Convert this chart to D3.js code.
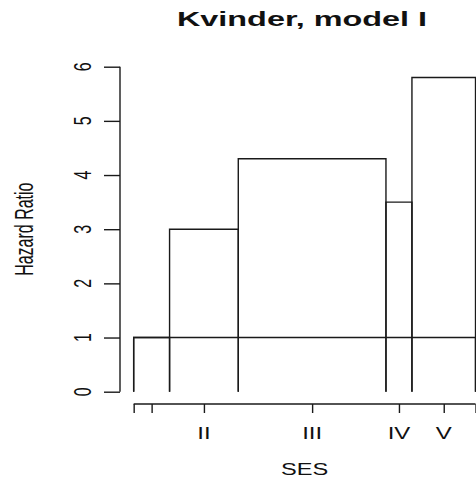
<!DOCTYPE html>
<html>
<head>
<meta charset="utf-8">
<script src="https://cdn.jsdelivr.net/npm/d3@7"></script>
<style>
  html, body { margin: 0; padding: 0; background: #fff; }
  svg { display: block; }
  text { font-family: "Liberation Sans", Arial, sans-serif; fill: #111; }
</style>
</head>
<body>
<script>
// ---- data ----
const categories = ["I", "II", "III", "IV", "V"];
const shares = [10.5, 20.1, 43.2, 7.6, 18.6];          // bar widths (% of SES axis)
const hazardRatios = [1.0, 3.0, 4.3, 3.5, 5.8];
const referenceHR = 1;
const yTicks = [0, 1, 2, 3, 4, 5, 6];
const xTickLabels = ["", "", "II", "III", "IV", "V", ""];
const title = "Kvinder, model I";
const xTitle = "SES";
const yTitle = "Hazard Ratio";

// ---- layout ----
const W = 476, H = 480;
const svg = d3.select("body").append("svg").attr("width", W).attr("height", H);

const total = d3.sum(shares);
const x = d3.scaleLinear().domain([-0.04 * total, 1.04 * total]).range([120, 489.2]);
const y = d3.scaleLinear().domain([-0.24, 6.24]).range([404.7, 53.7]);

// bars
let acc = 0;
const bars = categories.map((c, i) => {
  const b = { cat: c, x0: acc, x1: acc + shares[i], hr: hazardRatios[i] };
  acc += shares[i];
  return b;
});

const stroke = "#1a1a1a";
const openBar = (x0, x1, v) => `M${x(x0)},${y(0)}V${y(v)}H${x(x1)}V${y(0)}`;

// reference level (HR = 1) across the whole range
svg.append("path")
  .attr("d", openBar(0, total, referenceHR))
  .attr("fill", "none").attr("stroke", stroke).attr("stroke-width", 1.4);

svg.append("g").selectAll("path").data(bars).join("path")
  .attr("d", d => openBar(d.x0, d.x1, d.hr))
  .attr("fill", "none").attr("stroke", stroke).attr("stroke-width", 1.4);

// y axis
const yAxis = d3.axisLeft(y).tickValues(yTicks).tickSize(16).tickFormat("");
const gy = svg.append("g").attr("transform", `translate(120,0)`).call(yAxis);
gy.select(".domain").attr("d", `M0,${y(0)}V${y(6)}`).attr("stroke", stroke).attr("stroke-width", 1.4);
gy.selectAll(".tick line").attr("stroke", stroke).attr("stroke-width", 1.4);

svg.append("g").selectAll("text").data(yTicks).join("text")
  .attr("transform", d => `translate(90.5,${y(d)}) scale(1.55,1) rotate(-90)`)
  .attr("text-anchor", "middle")
  .attr("font-size", 16)
  .text(d => d);

// x axis
const xTickPos = [0, ...bars.map(b => (b.x0 + b.x1) / 2), total];
const xAxis = d3.axisBottom(x).tickValues(xTickPos).tickSize(9).tickFormat("");
const gx = svg.append("g").attr("transform", `translate(0,404)`).call(xAxis);
gx.select(".domain").attr("d", `M${x(0)},0H${x(total)}`).attr("stroke", stroke).attr("stroke-width", 1.4);
gx.selectAll(".tick line").attr("stroke", stroke).attr("stroke-width", 1.4);

svg.append("g").selectAll("text").data(xTickPos).join("text")
  .attr("transform", (d, i) => `translate(${x(d)},439) scale(1.5,1)`)
  .attr("text-anchor", "middle")
  .attr("font-size", 16)
  .text((d, i) => xTickLabels[i]);

// titles
svg.append("text")
  .attr("transform", `translate(302,25.7) scale(1.58,1)`)
  .attr("text-anchor", "middle")
  .attr("font-size", 20.5).attr("font-weight", "bold")
  .text(title);

svg.append("text")
  .attr("transform", `translate(${(x.range()[0] + x.range()[1]) / 2},475) scale(1.45,1)`)
  .attr("text-anchor", "middle")
  .attr("font-size", 16.3)
  .text(xTitle);

svg.append("text")
  .attr("transform", `translate(33.3,${(y.range()[0] + y.range()[1]) / 2}) scale(1.58,1) rotate(-90)`)
  .attr("text-anchor", "middle")
  .attr("font-size", 16)
  .text(yTitle);
</script>
</body>
</html>
